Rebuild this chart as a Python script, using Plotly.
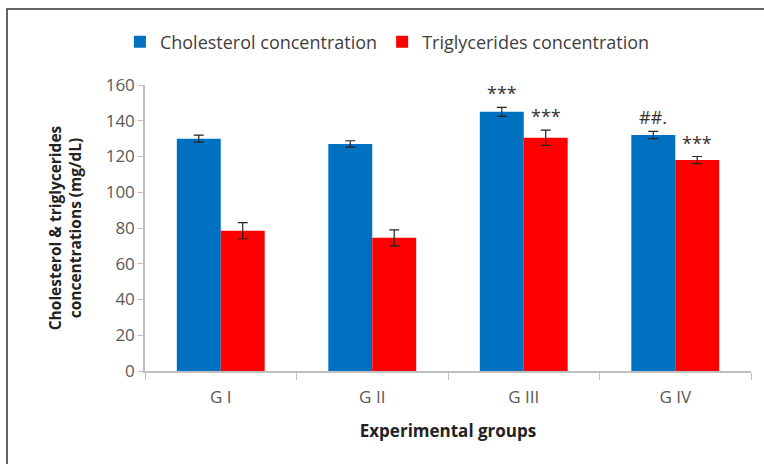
import plotly.graph_objects as go

groups = ["G I", "G II", "G III", "G IV"]
cholesterol = [130, 127, 145, 132]
cholesterol_err = [2, 1.8, 2.5, 2]
triglycerides = [78.5, 74.5, 130.5, 118]
triglycerides_err = [4.5, 4.5, 4.3, 2]
chol_marks = ["", "", "***", "##."]
trig_marks = ["", "", "***", "***"]
y_ticks = [0, 20, 40, 60, 80, 100, 120, 140, 160]

FONT = "Open Sans"
GRAY = "#595959"

fig = go.Figure()
fig.add_trace(go.Bar(
    name="Cholesterol concentration", x=groups, y=cholesterol,
    marker=dict(color="#0070C0", line=dict(width=0)),
    error_y=dict(type="data", array=cholesterol_err, color="#222222", thickness=1.2, width=5),
))
fig.add_trace(go.Bar(
    name="Triglycerides concentration", x=groups, y=triglycerides,
    marker=dict(color="#FF0000", line=dict(width=0)),
    error_y=dict(type="data", array=triglycerides_err, color="#222222", thickness=1.2, width=5),
))

annotations = []
for g, v, e, m in zip(groups, cholesterol, cholesterol_err, chol_marks):
    if m:
        annotations.append(dict(x=g, y=v + e, xref="x", yref="y", text=m, showarrow=False,
                                xshift=-22, yanchor="bottom", yshift=0,
                                font=dict(family=FONT, size=18, color="#333333")))
for g, v, e, m in zip(groups, triglycerides, triglycerides_err, trig_marks):
    if m:
        annotations.append(dict(x=g, y=v + e, xref="x", yref="y", text=m, showarrow=False,
                                xshift=22, yanchor="bottom", yshift=0,
                                font=dict(family=FONT, size=18, color="#333333")))

fig.update_layout(
    width=764, height=464,
    margin=dict(l=145, r=13, t=85, b=93),
    paper_bgcolor="white", plot_bgcolor="white",
    barmode="group", bargap=0.42, bargroupgap=0,
    font=dict(family=FONT, size=17, color=GRAY),
    legend=dict(orientation="h", x=0.40, xanchor="center", y=1 + 43 / 286, yanchor="middle",
                font=dict(family=FONT, size=18, color="#404040"),
                traceorder="normal"),
    annotations=annotations,
    shapes=[dict(type="rect", xref="paper", yref="paper",
                 x0=-138 / 606, x1=1.1, y0=-0.4, y1=1 + 76 / 286,
                 line=dict(color="#333333", width=1.5), layer="below")],
)
fig.update_xaxes(
    showline=True, linecolor="#BFBFBF", linewidth=1.5,
    tickson="boundaries", ticks="outside", ticklen=7, tickcolor="#BFBFBF",
    ticklabelstandoff=10,
    tickfont=dict(family=FONT, size=17, color=GRAY),
    title=dict(text="<b>Experimental groups</b>", standoff=18,
               font=dict(family=FONT, size=17, color="#222222")),
)
fig.update_yaxes(
    range=[0, 160], tickvals=y_ticks, showgrid=False,
    showline=True, linecolor="#BFBFBF", linewidth=1.5,
    ticks="outside", ticklen=5, tickcolor="#BFBFBF",
    tickfont=dict(family=FONT, size=17, color=GRAY),
    title=dict(text="<b>Cholesterol &amp; triglycerides<br>concentrations (mg/dL)</b>", standoff=20,
               font=dict(family=FONT, size=15.5, color="#222222")),
    zeroline=False,
)

fig.write_html("out.html")
